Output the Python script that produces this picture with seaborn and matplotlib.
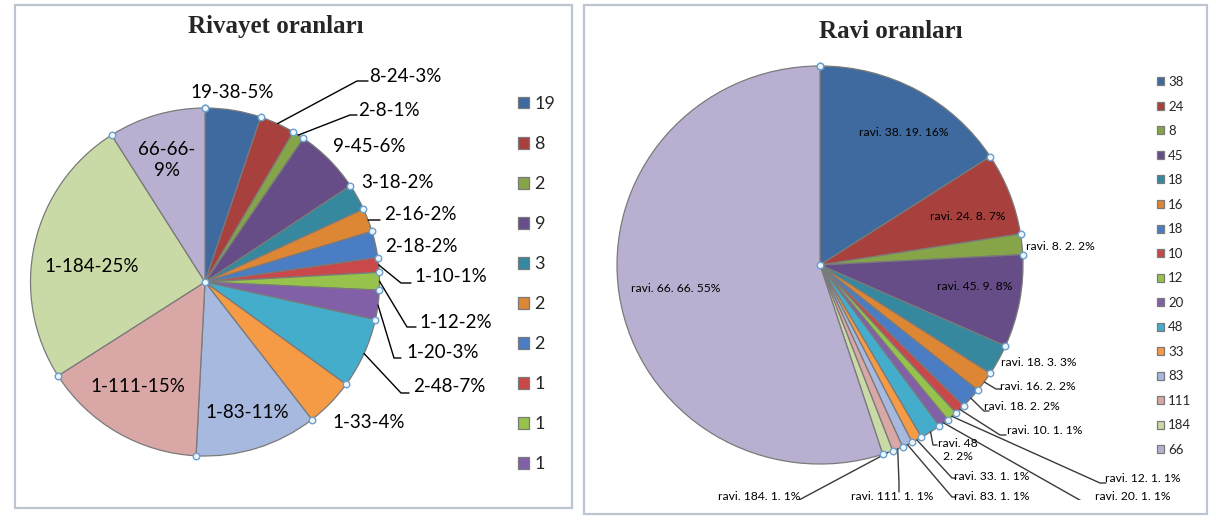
import numpy as np
import matplotlib
matplotlib.use("Agg")
import matplotlib.pyplot as plt
import seaborn as sns
from matplotlib.patches import Rectangle


# -----------------------------
# Data
# -----------------------------

ravi_counts = [19, 8, 2, 9, 3, 2, 2, 1, 1, 1, 2, 1, 1, 1, 1, 66]
rivayet_counts = [38, 24, 8, 45, 18, 16, 18, 10, 12, 20, 48, 33, 83, 111, 184, 66]
rivayet_pct = [5, 3, 1, 6, 2, 2, 2, 1, 2, 3, 7, 4, 11, 15, 25, 9]
ravi_pct = [16, 7, 2, 8, 3, 2, 2, 1, 1, 1, 2, 1, 1, 1, 1, 55]

slice_colors = [
    "#3F6AA0", "#A8413E", "#86A548", "#664D88", "#35889E", "#DD8634",
    "#4A7DC4", "#C9484A", "#97C24C", "#8260A8", "#44ADCB", "#F59A45",
    "#A7B9DE", "#D9A7A6", "#C9DAA6", "#B9B0D1",
]

# -----------------------------
# Layout (pixels of a 1216x523 canvas)
# -----------------------------

W, H = 1216, 523

# label centres, leader elbows
left_label_pos = [
    (232, 93), (405, 77), (389, 110), (369, 146), (397, 183), (420, 215),
    (421, 246), (451, 277), (456, 322), (443, 352), (449, 387), (369, 422),
    (247, 412), (138, 387), (92, 267), (167, 160),
]
left_leaders = {
    1: [(357, 81), (368, 81)],
    2: [(350, 115), (357, 115)],
    5: [(372, 220), (380, 220)],
    7: [(401, 283), (411, 283)],
    8: [(407, 327), (416, 327)],
    9: [(394, 358), (401, 358)],
    10: [(401, 393), (409, 393)],
}

right_label_pos = [
    (904, 132), (968, 217), (1060, 246), (975, 287), (1039, 363),
    (1038, 386), (1022, 406), (1045, 431), (1143, 479), (1133, 497),
    (958, 450), (992, 476), (992, 496), (892, 496), (759, 497), (676, 289),
]
right_leaders = {
    5: [(996, 389), (1001, 389)],
    6: [(984, 411), (989, 411)],
    7: [(1000, 435), (1006, 435)],
    8: [(1100, 483), (1106, 483)],
    9: [(1085, 503), (1090, 503)],
    10: [(933, 445), (937, 445)],
    11: [(952, 478), (956, 478)],
    12: [(952, 497), (956, 497)],
    13: [(899, 483), (899, 492)],
    14: [(799, 500), (790, 506)],
}

sns.set_theme(style="white")
plt.rcParams["font.family"] = ["Lato", "DejaVu Sans"]

fig = plt.figure(figsize=(W / 100, H / 100), dpi=100)
fig.patch.set_facecolor("white")


def add_border(x0, y0, x1, y1):
    fig.patches.append(Rectangle(
        (x0 / W, 1 - y1 / H), (x1 - x0) / W, (y1 - y0) / H,
        transform=fig.transFigure, fill=False,
        edgecolor="#BCC5D0", linewidth=1.6,
    ))


def pie_panel(box, center, radii, values, labels, label_pos, leaders,
              label_size, leader_color, title, title_xy):
    x0, y0, x1, y1 = box
    cx, cy = center
    rx, ry = radii
    ax = fig.add_axes([x0 / W, 1 - y1 / H, (x1 - x0) / W, (y1 - y0) / H])

    def to_data(px, py):
        return (px - cx) / rx, (cy - py) / ry

    wedges, _ = ax.pie(
        values, colors=sns.color_palette(slice_colors), startangle=90,
        counterclock=False, radius=1,
        wedgeprops=dict(edgecolor="#7A7A7A", linewidth=0.9),
    )
    ax.set_xlim((x0 - cx) / rx, (x1 - cx) / rx)
    ax.set_ylim((cy - y1) / ry, (cy - y0) / ry)
    ax.set_aspect("auto")
    ax.axis("off")

    # data labels and leader lines
    for i, (w, txt, pos) in enumerate(zip(wedges, labels, label_pos)):
        tx, ty = to_data(*pos)
        ax.text(tx, ty, txt, ha="center", va="center", fontsize=label_size,
                color="black", linespacing=1.25, clip_on=True)
        if i in leaders:
            mid = np.deg2rad((w.theta1 + w.theta2) / 2)
            pts = [(np.cos(mid), np.sin(mid))] + [to_data(*p) for p in leaders[i]]
            xs, ys = zip(*pts)
            ax.plot(xs, ys, color=leader_color, lw=1.0, clip_on=True)

    # selection handles on slice boundaries
    angles = sorted({round(w.theta1, 6) for w in wedges} | {round(w.theta2, 6) for w in wedges})
    hx = [np.cos(np.deg2rad(a)) for a in angles] + [0]
    hy = [np.sin(np.deg2rad(a)) for a in angles] + [0]
    ax.scatter(hx, hy, s=22, facecolor="#EEF5FB", edgecolor="#6A9FCC",
               linewidth=1.0, zorder=5, clip_on=False)

    tx, ty = to_data(*title_xy)
    ax.text(tx, ty, title, ha="center", va="center", fontsize=18,
            fontweight="bold", family="Liberation Serif", clip_on=False)
    return ax, wedges


# ---- left: Rivayet oranları
add_border(15, 5, 572, 508)
left_labels = [f"{a}-{b}-{p}%" for a, b, p in zip(ravi_counts, rivayet_counts, rivayet_pct)]
left_labels[15] = left_labels[15].replace("66-66-", "66-66-\n")
ax_l, w_l = pie_panel(
    (15, 5, 572, 508), (205, 282), (174.5, 174), rivayet_counts, left_labels,
    left_label_pos, left_leaders, 13.5, "black", "Rivayet oranları", (276, 27),
)
ax_l.legend(
    w_l[:10], [str(v) for v in ravi_counts[:10]], loc="upper left",
    bbox_to_anchor=(518 / W, 1 - 96 / H), bbox_transform=fig.transFigure,
    frameon=False, fontsize=13, handlelength=0.62, handleheight=0.62,
    handletextpad=0.3, labelspacing=1.33, borderpad=0, borderaxespad=0,
)

# ---- right: Ravi oranları
add_border(584, 5, 1207, 514)
right_labels = [f"ravi. {b}. {a}. {p}%" for a, b, p in zip(ravi_counts, rivayet_counts, ravi_pct)]
right_labels[10] = "ravi. 48\n2. 2%"
ax_r, w_r = pie_panel(
    (584, 5, 1207, 500), (820, 265), (203, 199), ravi_counts, right_labels,
    right_label_pos, right_leaders, 8.7, "#3A3A3A", "Ravi oranları", (891, 32),
)
ax_r.legend(
    w_r, [str(v) for v in rivayet_counts], loc="upper left",
    bbox_to_anchor=(1157 / W, 1 - 76 / H), bbox_transform=fig.transFigure,
    frameon=False, fontsize=9.5, handlelength=0.55, handleheight=0.55,
    handletextpad=0.3, labelspacing=0.95, borderpad=0, borderaxespad=0,
)

fig.savefig("out.png", dpi=100)
